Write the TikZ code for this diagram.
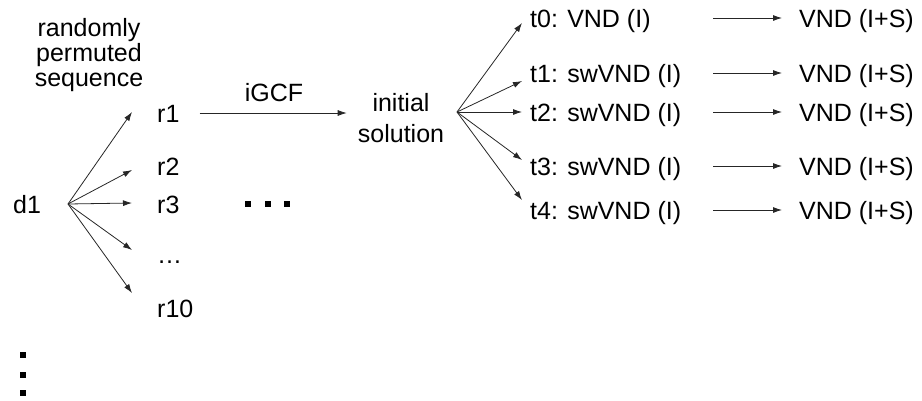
\documentclass[tikz,border=0pt]{standalone}
\usepackage{fontspec}
\setmainfont{Liberation Sans}
\usetikzlibrary{arrows.meta,calc}
\begin{document}
\begin{tikzpicture}[x=1pt,y=-1pt,font=\fontsize{25}{25}\selectfont]
\tikzstyle{lbl}=[inner sep=0pt,anchor=west,text height=18pt,text depth=0pt]
\tikzstyle{arr}=[-{Latex[length=9pt,width=6pt]},line width=0.8pt,black!85]
\tikzstyle{dot}=[fill,inner sep=0pt,minimum size=6pt]
\useasboundingbox (0,0) rectangle (922,400);

\node[inner sep=0pt,align=center] (rps) at (89,55.5) {randomly\\permuted\\sequence};
\node[lbl] (d1) at (13,204) {d1};
\coordinate (d1 out) at (68,204);
\foreach \name/\txt/\y/\tip in {r1/r1/113/112, r2/r2/166/170, r3/r3/204/203, rdots/…/254/250, r10/r10/308/293} {
  \node[lbl] (\name) at (157,\y) {\txt};
  \coordinate (\name in) at (132,\tip);
  \draw[arr] (d1 out) -- (\name in);
}
\foreach \x [count=\i] in {248,268,287}
  \node[dot] (hdot\i) at (\x,204) {};
\foreach \y [count=\i] in {355,375,393}
  \node[dot] (vdot\i) at (23,\y) {};

\node[inner sep=0pt,align=center,font=\fontsize{25}{31}\selectfont] (init) at (401,118.5) {initial\\solution};
\draw[arr,shorten <=20pt,shorten >=11pt] (r1.east) -- (r1.east -| init.west);
\node[inner sep=0pt,text height=18pt,text depth=0pt] (igcf) at (274,92) {iGCF};

% tasks started from the initial solution
\coordinate (init out) at (457,112);
\foreach \i/\meth/\y/\tip in {0/VND/18/23, 1/swVND/73/81, 2/swVND/112/112, 3/swVND/166/160, 4/swVND/210/200} {
  \node[lbl] (t\i) at (530,\y) {t\i: \meth\ (I)};
  \coordinate (t\i in) at (522,\tip);
  \draw[arr] (init out) -- (t\i in);
  \node[lbl] (v\i) at (799,\y) {VND (I+S)};
  \draw[arr,shorten >=17pt] ([xshift=183pt]t\i.west) -- (v\i.west);
}
\end{tikzpicture}
\end{document}
